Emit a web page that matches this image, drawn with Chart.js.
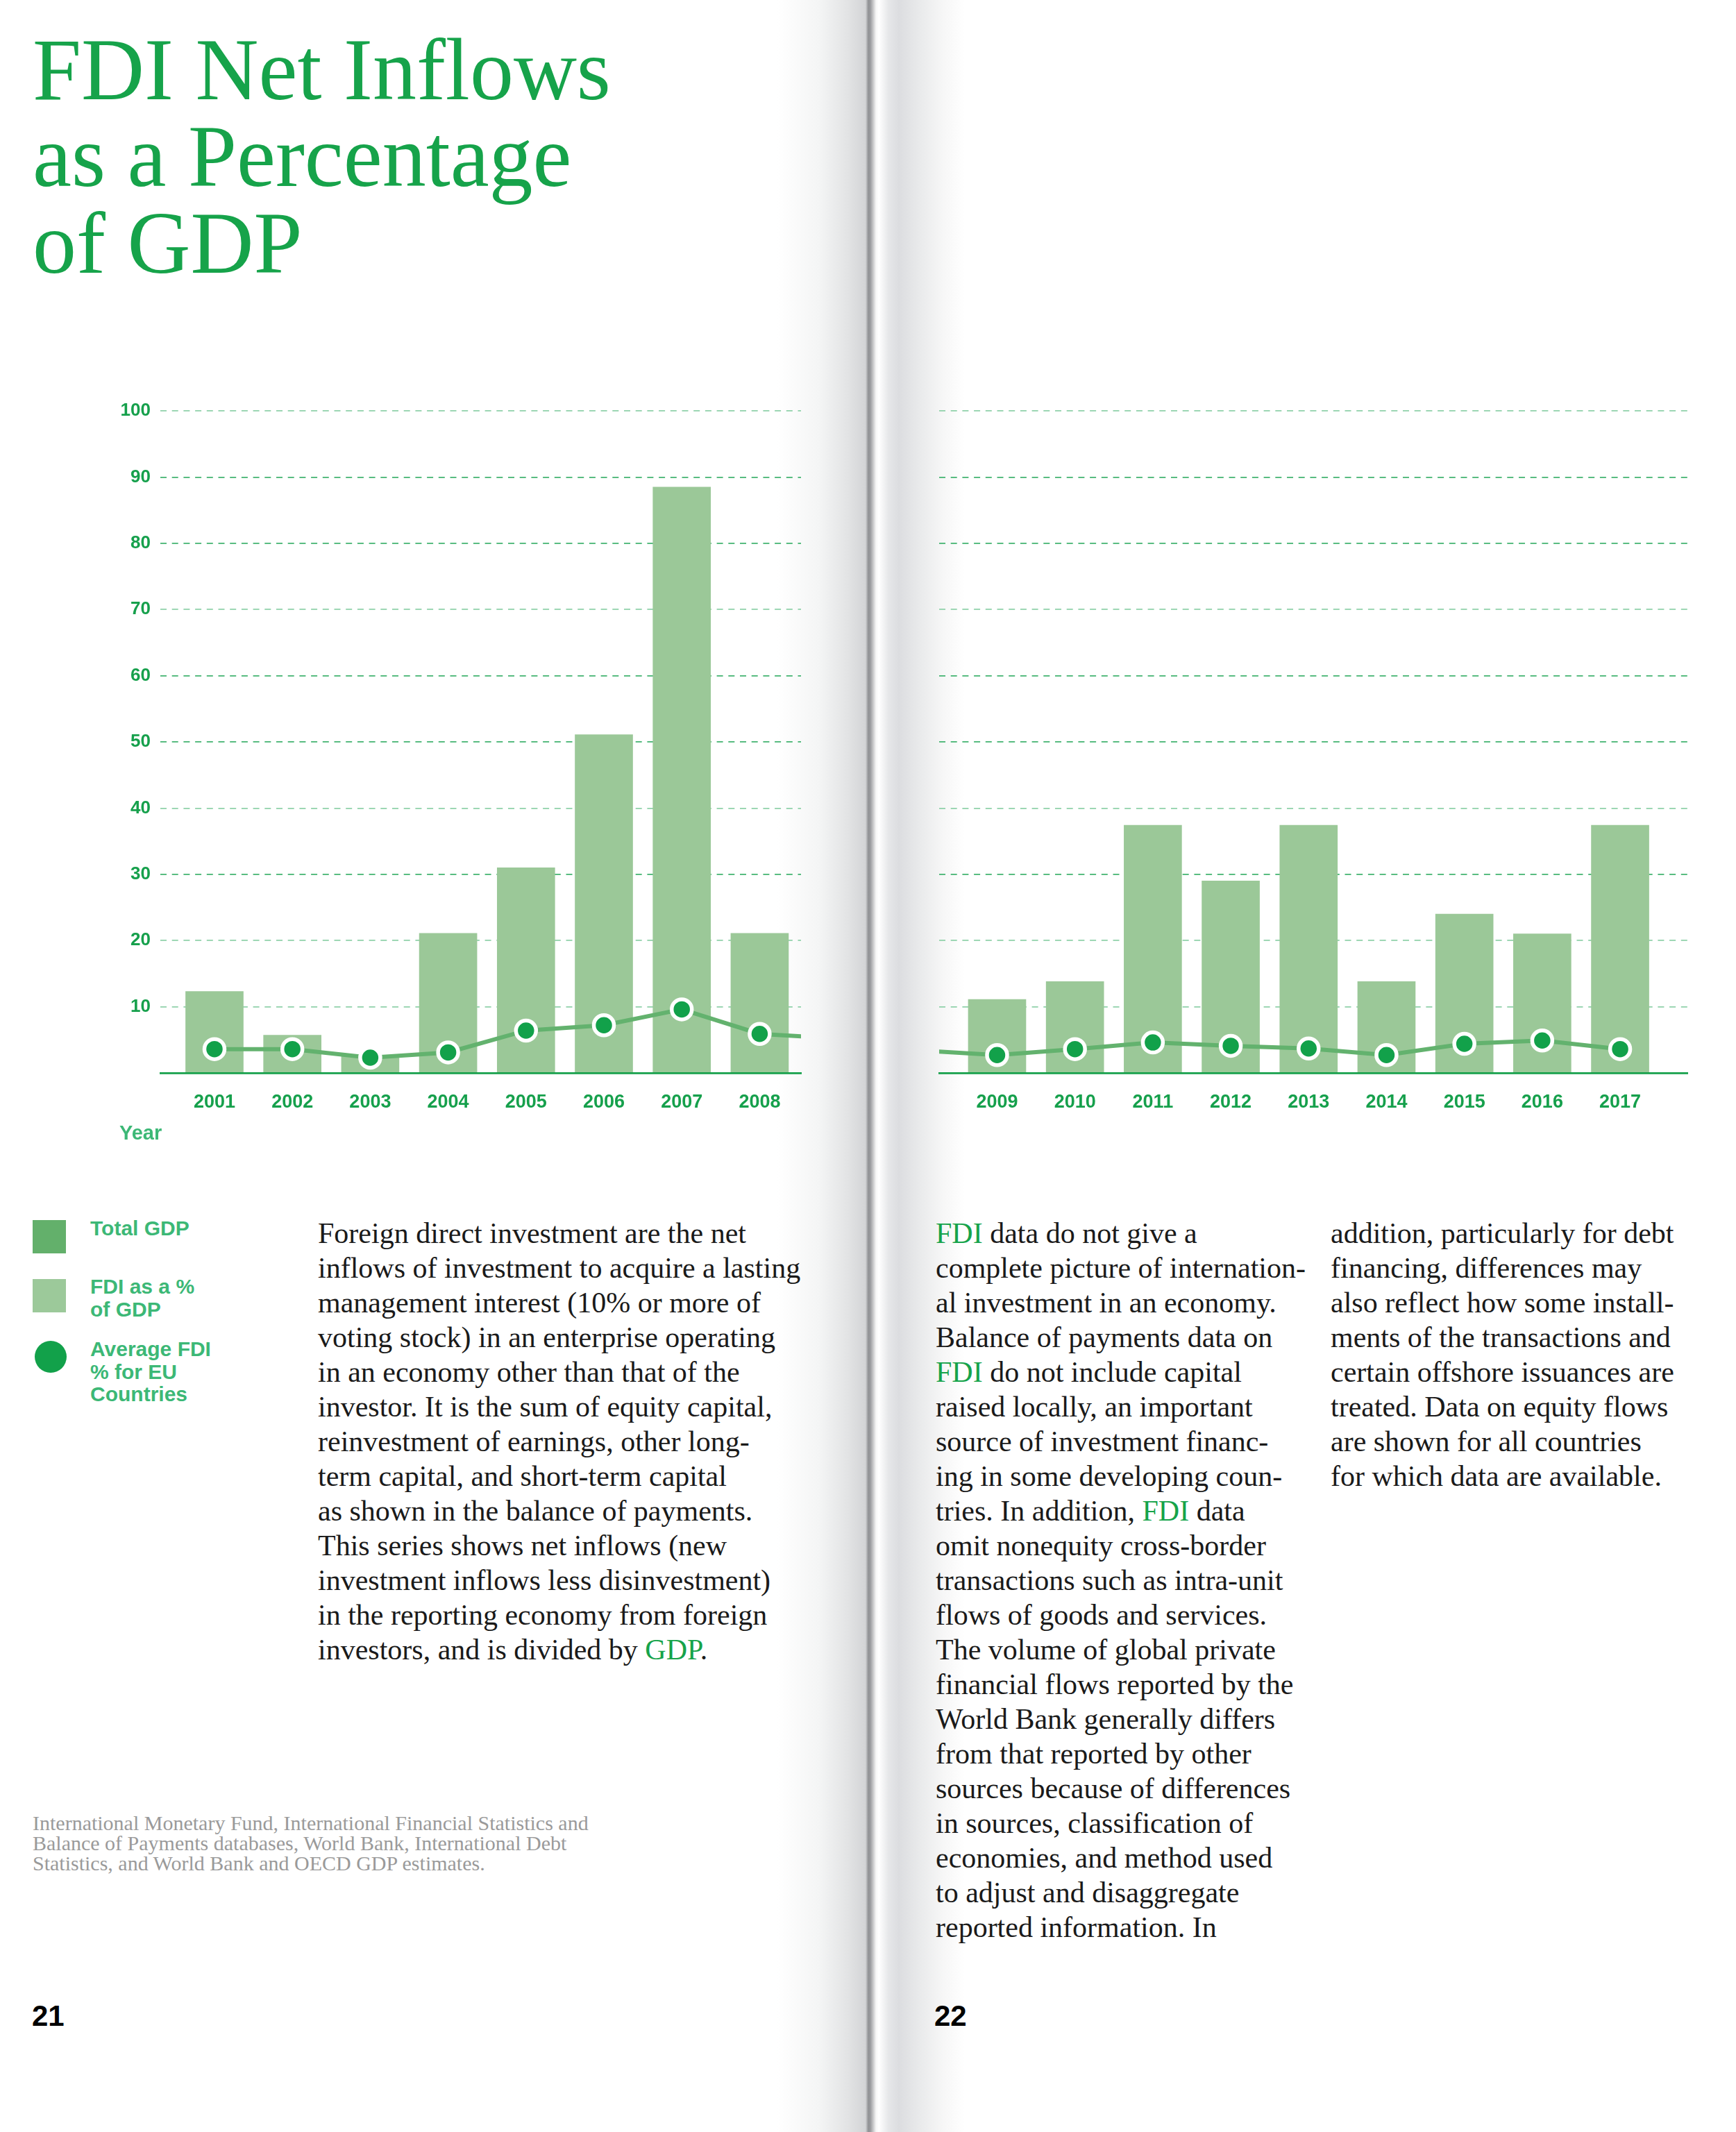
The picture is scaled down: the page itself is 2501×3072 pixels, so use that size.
<!DOCTYPE html>
<html>
<head>
<meta charset="utf-8">
<script src="https://cdn.jsdelivr.net/npm/chart.js@4.4.1/dist/chart.umd.min.js"></script>
<style>
  html, body { margin: 0; padding: 0; background: #ffffff; }
  body { width: 2501px; height: 3072px; position: relative; overflow: hidden; }
  .abs { position: absolute; white-space: nowrap; }
  .serif { font-family: 'Liberation Serif', 'Times New Roman', serif; font-weight: normal; }
  .sans { font-family: 'Liberation Sans', Arial, sans-serif; font-weight: bold; }
  .g { color: #16a34a; }
  #gutter {
    left: 1120px; top: 0; width: 270px; height: 3072px;
    background: linear-gradient(to right,
      #ffffff 0px, #f4f5f5 60px, #e3e4e5 100px, #d3d4d6 127px,
      #8f9093 131px, #9b9c9f 134px, #f6f6f6 142px, #ffffff 146px,
      #e6e7e9 160px, #dcdde0 175px, #e9eaeb 205px, #f7f7f7 240px, #ffffff 270px);
  }
  #title { left: 47px; top: 38px; font-size: 126px; line-height: 125px; color: #16a34a; }
  .body { font-size: 42px; line-height: 50px; color: #1a1a1a; }
  .legtxt { font-size: 30px; line-height: 32.5px; color: #3cb876; }
  .box { position: absolute; }
  .chartbox { position: absolute; }
</style>
</head>
<body>
<div id="gutter" class="abs"></div>

<div id="title" class="abs serif">FDI Net Inflows<br>as a Percentage<br>of GDP</div>

<div class="chartbox" style="left:150px; top:560px; width:1020px; height:1060px;"><canvas id="leftChart"></canvas></div>
<div class="chartbox" style="left:1340px; top:560px; width:1110px; height:1060px;"><canvas id="rightChart"></canvas></div>

<div class="abs sans" style="left:172px; top:1618px; font-size:29px; line-height:29px; color:#3cb876;">Year</div>

<!-- legend -->
<div class="box" style="left:47px; top:1758px; width:48px; height:48px; background:#63b06b;"></div>
<div class="box" style="left:47px; top:1843px; width:48px; height:48px; background:#9cc99a;"></div>
<div class="box" style="left:50px; top:1932px; width:46px; height:46px; border-radius:50%; background:#12a14a;"></div>
<div class="abs sans legtxt" style="left:130px; top:1754px;">Total GDP</div>
<div class="abs sans legtxt" style="left:130px; top:1838px;">FDI as a %<br>of GDP</div>
<div class="abs sans legtxt" style="left:130px; top:1928px;">Average FDI<br>% for EU<br>Countries</div>

<div class="abs serif body" style="left:458px; top:1752px;">Foreign direct investment are the net<br>inflows of investment to acquire a lasting<br>management interest (10% or more of<br>voting stock) in an enterprise operating<br>in an economy other than that of the<br>investor. It is the sum of equity capital,<br>reinvestment of earnings, other long-<br>term capital, and short-term capital<br>as shown in the balance of payments.<br>This series shows net inflows (new<br>investment inflows less disinvestment)<br>in the reporting economy from foreign<br>investors, and is divided by <span class="g">GDP</span>.</div>

<div class="abs serif body" style="left:1348px; top:1752px;"><span class="g">FDI</span> data do not give a<br>complete picture of internation-<br>al investment in an economy.<br>Balance of payments data on<br><span class="g">FDI</span> do not include capital<br>raised locally, an important<br>source of investment financ-<br>ing in some developing coun-<br>tries. In addition, <span class="g">FDI</span> data<br>omit nonequity cross-border<br>transactions such as intra-unit<br>flows of goods and services.<br>The volume of global private<br>financial flows reported by the<br>World Bank generally differs<br>from that reported by other<br>sources because of differences<br>in sources, classification of<br>economies, and method used<br>to adjust and disaggregate<br>reported information. In</div>

<div class="abs serif body" style="left:1917px; top:1752px;">addition, particularly for debt<br>financing, differences may<br>also reflect how some install-<br>ments of the transactions and<br>certain offshore issuances are<br>treated. Data on equity flows<br>are shown for all countries<br>for which data are available.</div>

<div class="abs serif" style="left:47px; top:2612px; font-size:30px; line-height:29px; color:#9a9a9a;">International Monetary Fund, International Financial Statistics and<br>Balance of Payments databases, World Bank, International Debt<br>Statistics, and World Bank and OECD GDP estimates.</div>

<div class="abs sans" style="left:46px; top:2884px; font-size:42px; line-height:42px; color:#000;">21</div>
<div class="abs sans" style="left:1346px; top:2884px; font-size:42px; line-height:42px; color:#000;">22</div>

<script>
// ---- data ----
const years = [2001, 2002, 2003, 2004, 2005, 2006, 2007, 2008, 2009, 2010, 2011, 2012, 2013, 2014, 2015, 2016, 2017];
const fdiShareOfGdp = [12.3, 5.7, 2.5, 21.1, 31.0, 51.1, 88.5, 21.1, 11.1, 13.8, 37.4, 29.0, 37.4, 13.8, 24.0, 21.0, 37.4];
const euAverageFdi = [3.6, 3.6, 2.3, 3.1, 6.4, 7.2, 9.6, 5.9, 2.7, 3.6, 4.6, 4.1, 3.7, 2.7, 4.4, 4.9, 3.6];
const yTickValues = [10, 20, 30, 40, 50, 60, 70, 80, 90, 100];
const leftPageYears = [2001, 2002, 2003, 2004, 2005, 2006, 2007, 2008];
const rightPageYears = [2009, 2010, 2011, 2012, 2013, 2014, 2015, 2016, 2017];
// the line runs on across the book's gutter: the neighbouring page's year sits this many year-widths away
const spreadGapYears = 4.5;

// ---- styles ----
const C = {
  bar: '#9bc898',
  line: '#63b26e',
  point: '#12a14a',
  tick: '#16a04c',
  axis: '#15a04a',
  gridLight: '#8fd1a9',
  gridMid: '#41b36f'
};
const lightGrid = [100, 70, 40, 20, 10];

Chart.defaults.font.family = "'Liberation Sans', Arial, sans-serif";

function makeChart(id, pageYears, xMin, xMax, showY, yAxisWidth, padRight) {
  const first = pageYears[0], last = pageYears[pageYears.length - 1];
  const barData = [];
  const lineData = [];
  years.forEach((yr, i) => {
    if (yr >= first && yr <= last) {
      barData.push({ x: yr, y: fdiShareOfGdp[i] });
      lineData.push({ x: yr, y: euAverageFdi[i] });
    } else if (yr === first - 1) {
      lineData.push({ x: first - spreadGapYears, y: euAverageFdi[i] });
    } else if (yr === last + 1) {
      lineData.push({ x: last + spreadGapYears, y: euAverageFdi[i] });
    }
  });
  return new Chart(document.getElementById(id), {
    data: {
      datasets: [
        {
          type: 'line',
          label: 'Average FDI % for EU Countries',
          data: lineData,
          order: 1,
          borderColor: C.line,
          borderWidth: 6,
          tension: 0,
          clip: 0,
          pointRadius: 14.5,
          pointBackgroundColor: C.point,
          pointBorderColor: '#ffffff',
          pointBorderWidth: 5.5
        },
        {
          type: 'bar',
          label: 'FDI as a % of GDP',
          data: barData,
          order: 2,
          backgroundColor: C.bar,
          borderWidth: 0,
          barThickness: 83,
          clip: 0
        }
      ]
    },
    options: {
      responsive: true,
      maintainAspectRatio: false,
      animation: false,
      events: [],
      layout: { autoPadding: false, padding: { top: 32, right: padRight, left: 0, bottom: 0 } },
      plugins: { legend: { display: false }, tooltip: { enabled: false } },
      scales: {
        x: {
          type: 'linear',
          position: 'bottom',
          offset: false,
          min: xMin,
          max: xMax,
          grid: { display: false, drawTicks: false, offset: false },
          border: { display: true, color: C.axis, width: 2.7, z: 1 },
          ticks: {
            color: C.tick,
            font: { size: 27, weight: 'bold' },
            padding: 26,
            autoSkip: false,
            maxRotation: 0,
            callback: (v) => String(v)
          },
          afterBuildTicks: (s) => { s.ticks = pageYears.map(v => ({ value: v })); },
          afterFit: (s) => { s.height = 74; s.paddingLeft = 0; s.paddingRight = 0; }
        },
        y: {
          type: 'linear',
          position: 'left',
          min: 0,
          max: 100,
          grid: {
            drawTicks: false,
            lineWidth: 1.7,
            color: (ctx) => (ctx.tick && lightGrid.includes(ctx.tick.value)) ? C.gridLight : C.gridMid
          },
          border: { display: false, dash: [9, 7.7] },
          ticks: {
            display: showY,
            color: C.tick,
            font: { size: 26, weight: 'bold' },
            padding: 14
          },
          afterBuildTicks: (s) => { s.ticks = yTickValues.map(v => ({ value: v })); },
          afterFit: (s) => { s.width = yAxisWidth; }
        }
      }
    }
  });
}

makeChart('leftChart', leftPageYears, 2000.305, 2008.531, true, 81, 16);
makeChart('rightChart', rightPageYears, 2008.256, 2017.864, false, 13, 19);
</script>
</body>
</html>
